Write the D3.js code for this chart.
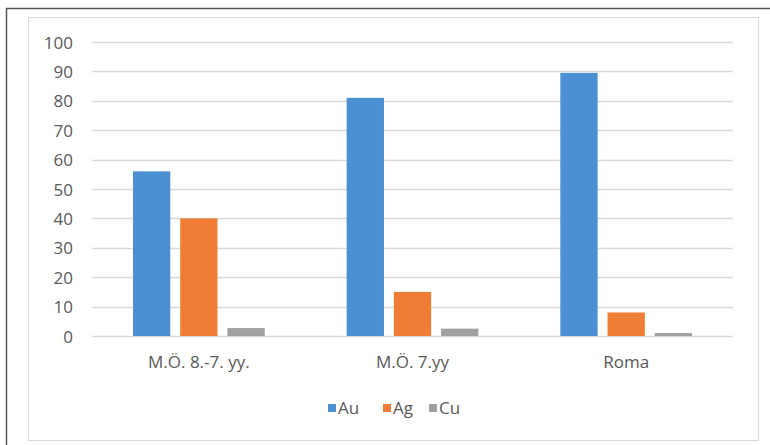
<!DOCTYPE html>
<html><head><meta charset="utf-8">
<script src="https://cdn.jsdelivr.net/npm/d3@7"></script>
<style>body{margin:0;background:#fff;}svg{display:block;}</style>
</head><body><svg id="c" width="770" height="445"></svg>
<script>
const categories = ["M.Ö. 8.-7. yy.", "M.Ö. 7.yy", "Roma"];
const seriesNames = ["Au", "Ag", "Cu"];
const auValues = [56, 81, 89.5];
const agValues = [40, 15, 8];
const cuValues = [2.7, 2.5, 1];
const yTicks = [0, 10, 20, 30, 40, 50, 60, 70, 80, 90, 100];
const colors = ["#4a90d2", "#ef7d35", "#a0a0a0"];

const series = [auValues, agValues, cuValues];
const svg = d3.select("#c");
const font = "'Open Sans', 'Liberation Sans', sans-serif";
const textColor = "#595959";
const fs = 17;

// outer frame and inner chart area border
svg.append("rect").attr("x", 6.5).attr("y", 8.5).attr("width", 780).attr("height", 460)
  .attr("fill", "none").attr("stroke", "#555").attr("stroke-width", 1.5);
svg.append("rect").attr("x", 28.5).attr("y", 17.5).attr("width", 730).attr("height", 423)
  .attr("fill", "#fff").attr("stroke", "#d9d9d9").attr("stroke-width", 1);

const x0 = d3.scaleBand().domain(categories).range([92, 733]).paddingInner(0).paddingOuter(0);
const x1 = d3.scaleBand().domain(seriesNames).range([41, 213.7 - 41]).paddingInner(0.21).paddingOuter(0);
const y = d3.scaleLinear().domain([0, 100]).range([336, 42]);

// gridlines
svg.append("g").selectAll("line").data(yTicks).join("line")
  .attr("x1", 92).attr("x2", 733)
  .attr("y1", d => Math.round(y(d)) + 0.5).attr("y2", d => Math.round(y(d)) + 0.5)
  .attr("stroke", "#d9d9d9").attr("stroke-width", 1.5);

// y axis labels
const yAxis = d3.axisLeft(y).tickValues(yTicks).tickSize(0).tickPadding(0);
const gy = svg.append("g").attr("transform", "translate(73,0)").call(yAxis);
gy.select(".domain").remove();
gy.selectAll("text").attr("font-family", font).attr("font-size", fs)
  .attr("fill", textColor).attr("dy", "0.36em");

// bars
const groups = svg.append("g").selectAll("g").data(categories).join("g")
  .attr("transform", d => `translate(${x0(d)},0)`);
groups.selectAll("rect").data((d, i) => seriesNames.map((s, j) => ({s, v: series[j][i], c: colors[j]})))
  .join("rect")
  .attr("x", d => x1(d.s)).attr("width", x1.bandwidth())
  .attr("y", d => y(d.v)).attr("height", d => y(0) - y(d.v))
  .attr("fill", d => d.c);

// x axis labels
const xAxis = d3.axisBottom(x0).tickSize(0).tickPadding(0);
const gx = svg.append("g").attr("transform", "translate(0,368)").call(xAxis);
gx.select(".domain").remove();
gx.selectAll("text").attr("font-family", font).attr("font-size", fs)
  .attr("fill", textColor).attr("dy", "0");

// legend
const legendX = [328, 383, 429];
const lg = svg.append("g").selectAll("g").data(seriesNames).join("g")
  .attr("transform", (d, i) => `translate(${legendX[i]},404)`);
lg.append("rect").attr("width", 8).attr("height", 8).attr("fill", (d, i) => colors[i]);
lg.append("text").attr("x", 10).attr("y", 4).attr("dy", "0.36em")
  .attr("font-family", font).attr("font-size", fs).attr("fill", textColor).text(d => d);
</script></body></html>
